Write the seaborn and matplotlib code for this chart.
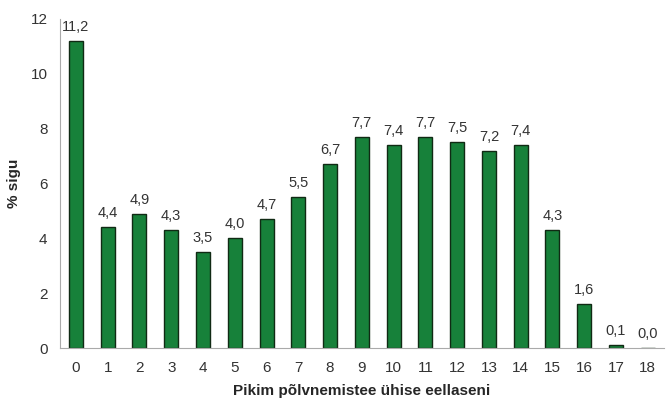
import numpy as np
import pandas as pd
import matplotlib.pyplot as plt
import seaborn as sns

# Andmed
polvnemine = [str(i) for i in range(19)]
protsent = [11.2, 4.4, 4.9, 4.3, 3.5, 4.0, 4.7, 5.5, 6.7, 7.7, 7.4, 7.7, 7.5, 7.2, 7.4, 4.3, 1.6, 0.1, 0.0]

df = pd.DataFrame({'polvnemine': polvnemine, 'protsent': protsent})

sns.set_style('white')
plt.rcParams['font.family'] = ['Liberation Sans', 'DejaVu Sans']

fig, ax = plt.subplots(figsize=(6.67, 4.01), dpi=100)
fig.subplots_adjust(left=0.09, right=0.995, top=0.953, bottom=0.132)

sns.barplot(x='polvnemine', y='protsent', data=df, ax=ax, color='#17813a',
            saturation=1, width=0.44, edgecolor='#102a14', linewidth=1.0)

# vaartused tulpade kohale
for i, v in enumerate(protsent):
    ax.text(i, v + 0.25, f'{v:.1f}'.replace('.', ','), ha='center', va='bottom',
            fontsize=10.5, color='#333333')

ax.set_ylim(0, 12)
ax.set_xlim(-0.5, 18.5)
ax.set_yticks(range(0, 13, 2))
ax.tick_params(axis='y', length=0, labelsize=11, colors='#333333', pad=9)
ax.tick_params(axis='x', length=0, labelsize=11, colors='#333333', pad=9)

# vaikesed kriipsud kategooriate vahel
ax.set_xticks(np.arange(-0.5, 19, 1), minor=True)
ax.tick_params(axis='x', which='minor', length=4, color='#aaaaaa', direction='out')

sns.despine(ax=ax, top=True, right=True)
ax.spines['left'].set_color('#aaaaaa')
ax.spines['bottom'].set_color('#aaaaaa')

ax.set_ylabel('% sigu', fontsize=11, fontweight='bold', labelpad=7)
ax.set_xlabel('Pikim põlvnemistee ühise eellaseni', fontsize=11, fontweight='bold', labelpad=7)

plt.savefig('out.png', dpi=100)
